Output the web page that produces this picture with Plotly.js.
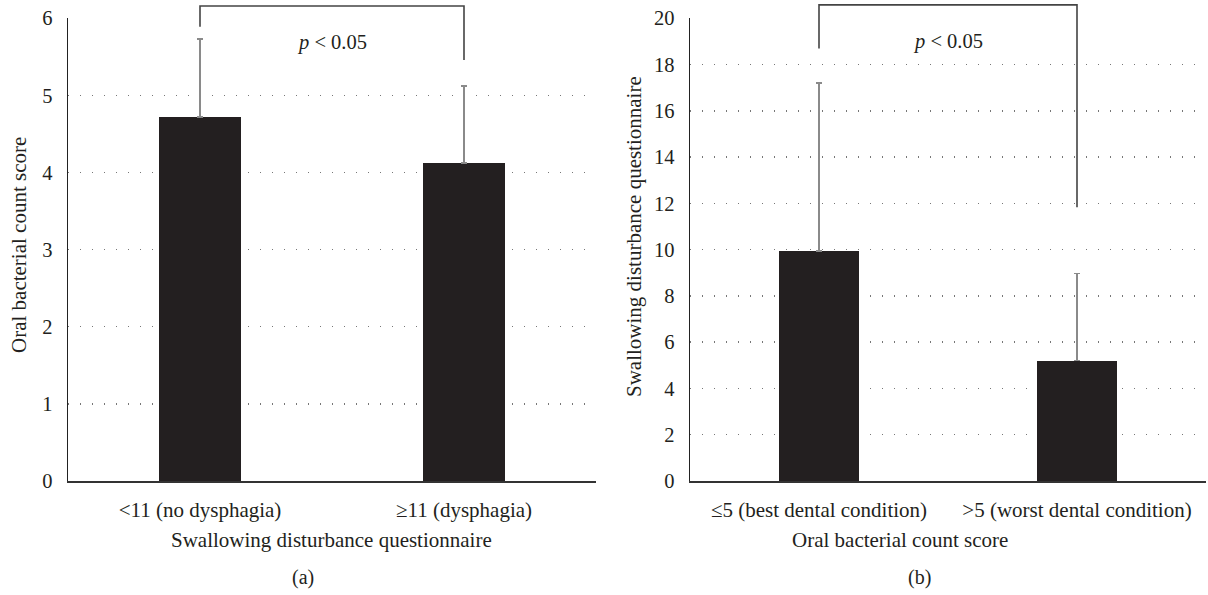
<!DOCTYPE html>
<html><head><meta charset="utf-8">
<script src="https://cdn.plot.ly/plotly-3.0.1.min.js"></script>
<style>body{margin:0;background:#fff}#chart{width:1208px;height:595px}</style>
</head><body><div id="chart"></div>
<script>
// Panel (a)
const categoriesA = ['&lt;11 (no dysphagia)', '≥11 (dysphagia)'];
const meansA = [4.72, 4.12];
const sdA = [1.01, 1.0];
const bracketXA = [0, 0, 1, 1];
const bracketYA = [5.89, 6.16, 6.16, 5.46];
const yTicksA = [0, 1, 2, 3, 4, 5, 6];
// Panel (b)
const categoriesB = ['≤5 (best dental condition)', '&gt;5 (worst dental condition)'];
const meansB = [9.95, 5.2];
const sdB = [7.25, 3.77];
const bracketXB = [0, 0, 1, 1];
const bracketYB = [18.7, 20.58, 20.58, 11.83];
const yTicksB = [0, 2, 4, 6, 8, 10, 12, 14, 16, 18, 20];
const xPos = [0, 1];
const pLabel = '<i>p</i> &lt; 0.05';

const FONT = 'Liberation Serif, Times New Roman, serif';
const TXT = '#231f20';
const barColor = '#231f20';
const errStyle = {type: 'data', symmetric: false, color: '#8a8a8a', thickness: 1.6, width: 3};

const yBot = (595 - 481) / 595, yTop = (595 - 18.3) / 595;
// overlay axes reaching to the top of the figure, same units as the visible axes
const ext = (1 - yBot) / (yTop - yBot);

const traces = [
  {type: 'bar', x: xPos, y: meansA, xaxis: 'x', yaxis: 'y', width: 0.314,
   marker: {color: barColor}, hoverinfo: 'skip',
   error_y: Object.assign({array: sdA, arrayminus: [0, 0]}, errStyle)},
  {type: 'scatter', mode: 'lines', x: bracketXA, y: bracketYA, xaxis: 'x', yaxis: 'y3',
   line: {color: '#444', width: 1.6}, cliponaxis: false, hoverinfo: 'skip'},
  {type: 'bar', x: xPos, y: meansB, xaxis: 'x2', yaxis: 'y2', width: 0.313,
   marker: {color: barColor}, hoverinfo: 'skip',
   error_y: Object.assign({array: sdB, arrayminus: [0, 0]}, errStyle)},
  {type: 'scatter', mode: 'lines', x: bracketXB, y: bracketYB, xaxis: 'x2', yaxis: 'y4',
   line: {color: '#444', width: 1.6}, cliponaxis: false, hoverinfo: 'skip'}
];

const gridCommon = {
  showgrid: true, gridcolor: '#777', gridwidth: 1.4, griddash: '1.4px,10.6px',
  zeroline: false, showline: true, linecolor: '#222', linewidth: 1.5,
  ticks: '', tickfont: {family: FONT, size: 20.5, color: TXT},
  ticklabelstandoff: 10, fixedrange: true
};
const xCommon = {
  range: [-0.5, 1.5], tickvals: xPos, showgrid: false, zeroline: false,
  showline: true, linecolor: '#333', linewidth: 1.5, ticks: '',
  tickfont: {family: FONT, size: 21, color: TXT}, ticklabelstandoff: 9, fixedrange: true
};
const hiddenY = {visible: false, showgrid: false, zeroline: false, fixedrange: true, domain: [yBot, 1]};

const ann = (x, y, text, size, extra) => Object.assign({
  xref: 'paper', yref: 'paper', x: x / 1208, y: (595 - y) / 595, text: text,
  showarrow: false, xanchor: 'center', yanchor: 'middle',
  font: {family: FONT, size: size, color: TXT}
}, extra || {});

const layout = {
  width: 1208, height: 595, margin: {l: 0, r: 0, t: 0, b: 0},
  paper_bgcolor: '#fff', plot_bgcolor: 'rgba(0,0,0,0)', showlegend: false,
  bargap: 0,
  xaxis: Object.assign({}, xCommon, {domain: [68 / 1208, 596 / 1208], ticktext: categoriesA, anchor: 'y'}),
  yaxis: Object.assign({}, gridCommon, {domain: [yBot, yTop], range: [0, 6], tickvals: yTicksA, anchor: 'x'}),
  xaxis2: Object.assign({}, xCommon, {domain: [690 / 1208, 1206 / 1208], ticktext: categoriesB, anchor: 'y2'}),
  yaxis2: Object.assign({}, gridCommon, {domain: [yBot, yTop], range: [0, 20], tickvals: yTicksB, anchor: 'x2'}),
  yaxis3: Object.assign({}, hiddenY, {range: [0, 6 * ext], anchor: 'x'}),
  yaxis4: Object.assign({}, hiddenY, {range: [0, 20 * ext], anchor: 'x2'}),
  annotations: [
    {xref: 'x', yref: 'y', x: 0.5, y: 5.68, text: pLabel, showarrow: false,
     xanchor: 'center', yanchor: 'middle', font: {family: FONT, size: 20.5, color: TXT}},
    {xref: 'x2', yref: 'y2', x: 0.5, y: 18.98, text: pLabel, showarrow: false,
     xanchor: 'center', yanchor: 'middle', font: {family: FONT, size: 20.5, color: TXT}},
    ann(331, 540, 'Swallowing disturbance questionnaire', 21),
    ann(900, 540, 'Oral bacterial count score', 21),
    ann(303, 577, '(a)', 20),
    ann(919, 577, '(b)', 20),
    ann(19, 245, 'Oral bacterial count score', 21, {textangle: -90}),
    ann(634, 237, 'Swallowing disturbance questionnaire', 21, {textangle: -90})
  ]
};

Plotly.newPlot('chart', traces, layout, {displayModeBar: false, staticPlot: true});
</script>
</body></html>
